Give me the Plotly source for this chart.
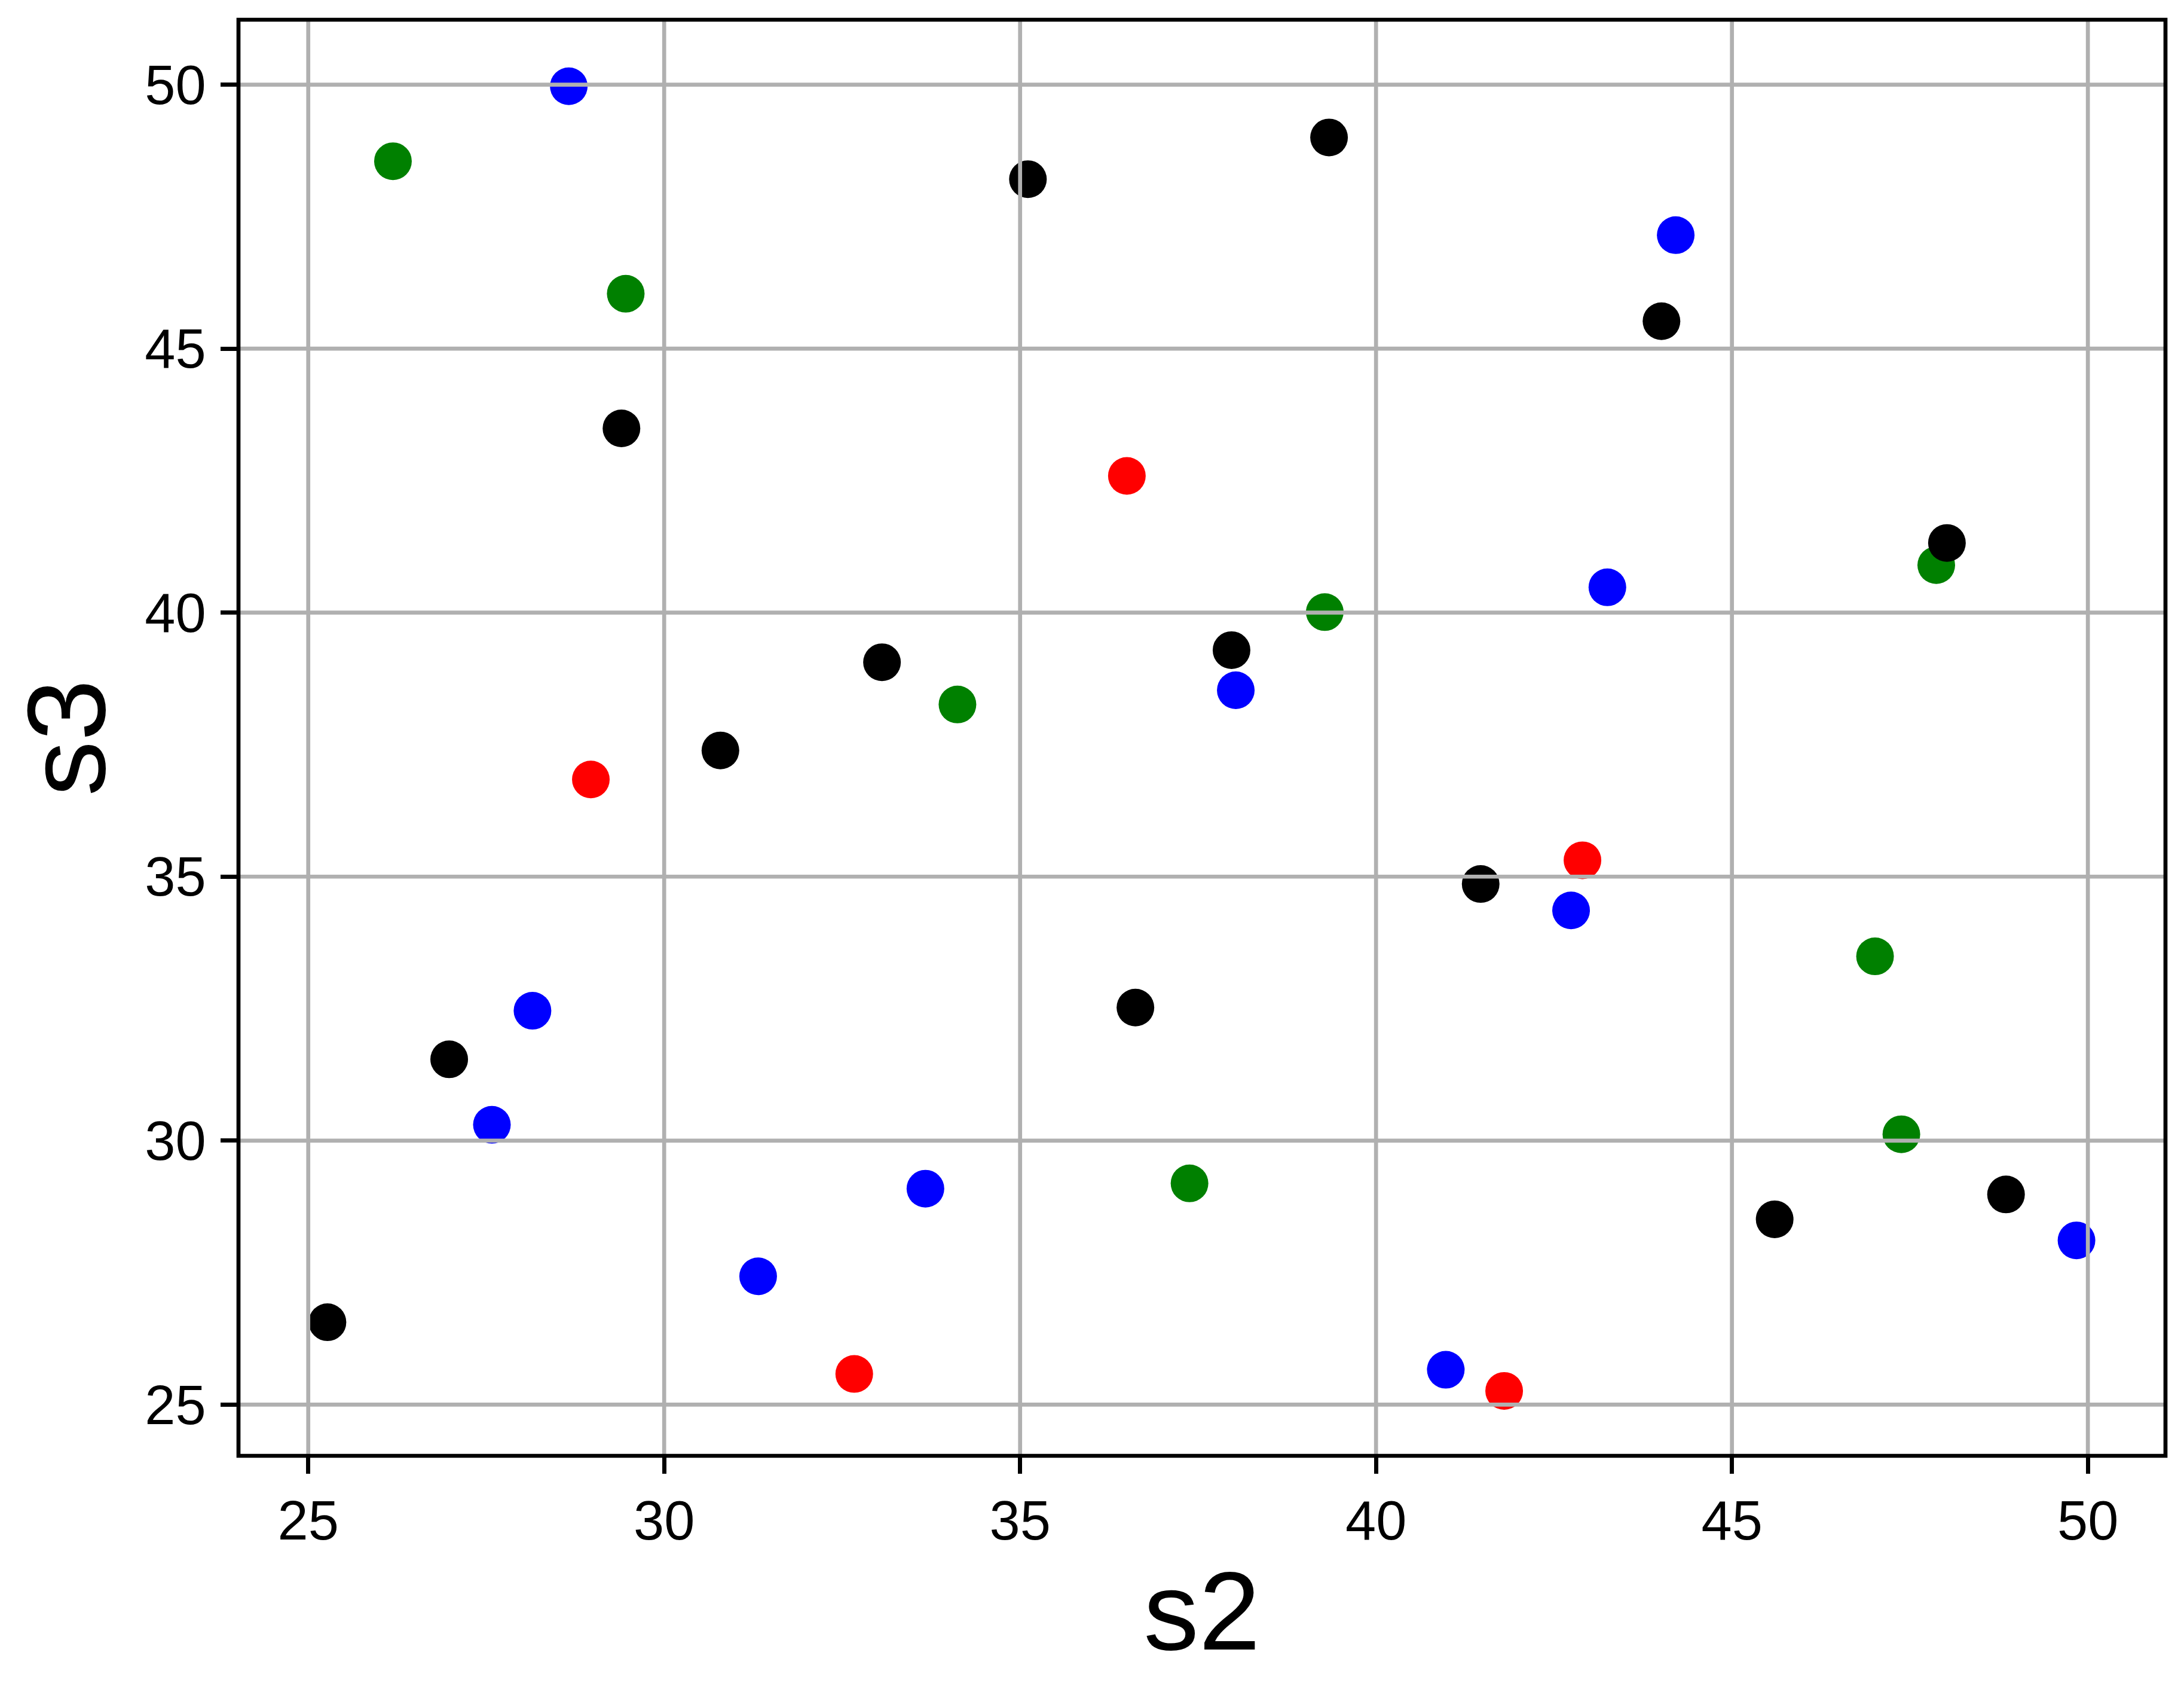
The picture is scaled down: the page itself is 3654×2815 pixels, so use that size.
import plotly.graph_objects as go

# values (s2 on x, s3 on y)
black_s2 = [25.27, 26.98, 29.40, 30.79, 33.06, 35.11, 36.62, 37.97, 39.34, 41.47, 44.01, 45.60, 48.02, 48.85]
black_s3 = [26.56, 31.54, 43.49, 37.39, 39.06, 48.21, 32.52, 39.29, 49.00, 34.86, 45.52, 28.51, 41.32, 28.98]

blue_s2 = [28.66, 27.58, 28.15, 31.32, 33.67, 38.03, 40.98, 42.74, 43.25, 44.21, 49.84]
blue_s3 = [49.97, 30.30, 32.46, 27.43, 29.09, 38.53, 25.66, 34.36, 40.48, 47.15, 28.11]

green_s2 = [26.19, 29.46, 34.12, 37.38, 39.28, 47.01, 47.38, 47.87]
green_s3 = [48.55, 46.04, 38.26, 29.19, 40.01, 33.49, 30.12, 40.90]

red_s2 = [28.97, 32.67, 36.50, 41.80, 42.90]
red_s3 = [36.84, 25.58, 42.59, 25.26, 35.31]

tick_vals = [25, 30, 35, 40, 45, 50]

FONT = "Liberation Sans, Arial, sans-serif"
GRID = "#b0b0b0"
LW = 6.7


def main():
    fig = go.Figure()

    groups = [
        (blue_s2, blue_s3, "blue"),
        (green_s2, green_s3, "green"),
        (red_s2, red_s3, "red"),
        (black_s2, black_s3, "black"),
    ]
    for xs, ys, c in groups:
        fig.add_trace(
            go.Scatter(x=xs, y=ys, mode="markers", marker=dict(color=c, size=63, line=dict(width=0)), showlegend=False)
        )

    # matplotlib draws the grid over the scatter points, so use shapes on top
    shapes = []
    for v in tick_vals:
        shapes.append(dict(type="line", xref="x", yref="y domain", x0=v, x1=v, y0=0, y1=1,
                           line=dict(color=GRID, width=LW), layer="above"))
        shapes.append(dict(type="line", xref="x domain", yref="y", x0=0, x1=1, y0=v, y1=v,
                           line=dict(color=GRID, width=LW), layer="above"))
    shapes.append(dict(type="rect", xref="x domain", yref="y domain", x0=0, x1=1, y0=0, y1=1,
                       line=dict(color="black", width=LW), layer="above"))

    axis_common = dict(
        tickvals=tick_vals,
        showgrid=False,
        zeroline=False,
        showline=False,
        ticks="outside",
        ticklen=29,
        tickwidth=LW,
        tickcolor="black",
        tickfont=dict(family=FONT, size=92, color="black"),
        automargin=False,
    )

    fig.update_xaxes(range=[24.02, 51.09], title=dict(text="s2", font=dict(family=FONT, size=185, color="black"), standoff=36), **axis_common)
    fig.update_yaxes(range=[24.03, 51.23], ticklabelstandoff=6,
                     title=dict(text="s3", font=dict(family=FONT, size=185, color="black"), standoff=34), **axis_common)

    fig.update_layout(
        width=3654,
        height=2815,
        margin=dict(l=391, r=39, t=25, b=388),
        paper_bgcolor="white",
        plot_bgcolor="white",
        shapes=shapes,
    )

    fig.write_html("out.html")


if __name__ == "__main__":
    main()
